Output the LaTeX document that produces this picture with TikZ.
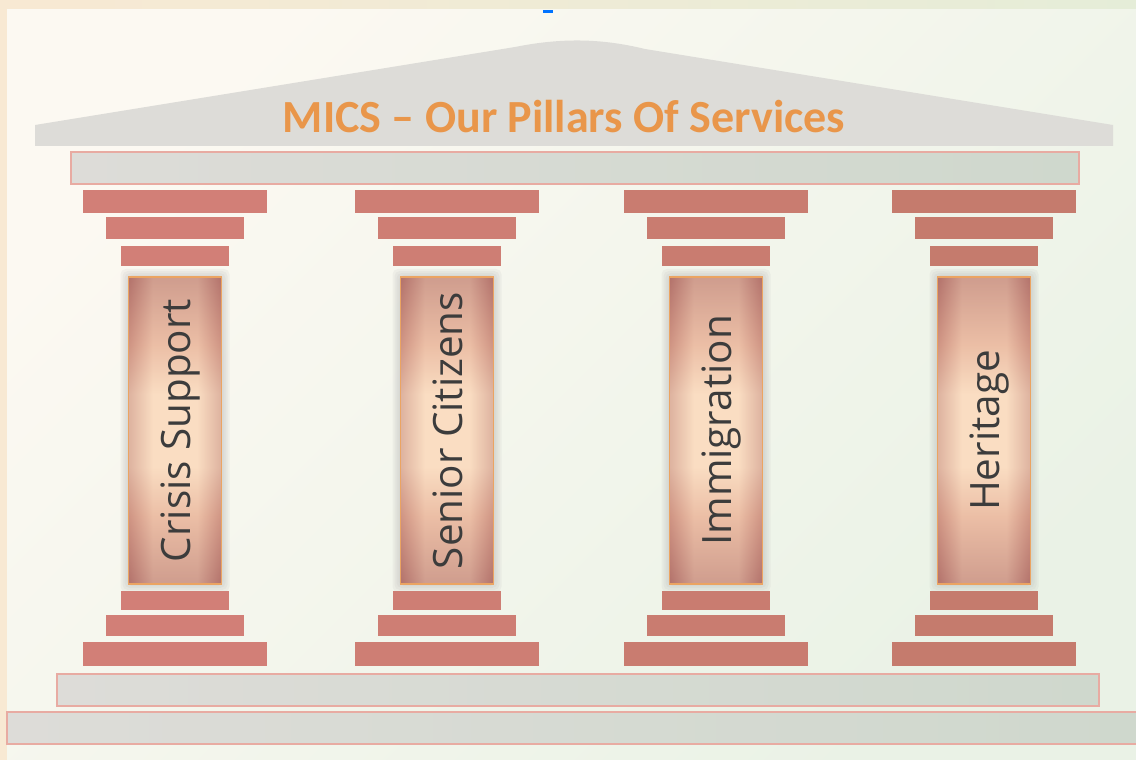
\documentclass[tikz,border=0pt]{standalone}
\usepackage{fontspec}
\setmainfont{Open Sans}
\newfontfamily\titlefont{Carlito}
\definecolor{bgA}{HTML}{F8E9D3}
\definecolor{bgB}{HTML}{E5EDD8}
\definecolor{panA}{HTML}{FCF9F2}
\definecolor{panB}{HTML}{EAF2E6}
\definecolor{slabA}{HTML}{D27F77}
\definecolor{slabB}{HTML}{C47B6C}
\definecolor{greyA}{HTML}{DDDCD8}
\definecolor{greyB}{HTML}{CFD8CD}
\definecolor{pinkline}{HTML}{E8ABA2}
\definecolor{titleorange}{HTML}{E9964A}
\definecolor{shaftin}{HTML}{FADDC2}
\definecolor{shaftmid}{HTML}{E2AA93}
\definecolor{shaftout}{HTML}{B3726B}
\definecolor{shaftedge}{HTML}{EBA462}
\definecolor{txt}{HTML}{3C3C3C}
\pgfdeclareverticalshading{shaftv}{100bp}{%
  color(0bp)=(shaftout); color(25bp)=(shaftout); color(36bp)=(shaftmid);
  color(44bp)=(shaftin); color(56bp)=(shaftin); color(64bp)=(shaftmid);
  color(75bp)=(shaftout); color(100bp)=(shaftout)}
\pgfdeclarehorizontalshading{shafth}{100bp}{%
  color(0bp)=(shaftout); color(25bp)=(shaftout); color(38bp)=(shaftin);
  color(62bp)=(shaftin); color(75bp)=(shaftout); color(100bp)=(shaftout)}
\begin{document}
\begin{tikzpicture}[x=0.02cm,y=-0.02cm,
  slab/.style={fill=slabcol},
  greybar/.style={left color=greyA,right color=greyB,draw=pinkline,line width=0.8pt},
  glow/.style={fill=gray!60,opacity=0.12,rounded corners=3},
  label/.style={rotate=90,anchor=base,text=txt,font=\fontsize{23}{26}\selectfont,inner sep=0pt}]
\useasboundingbox (0,0) rectangle (1136,760);
% background
\shade[left color=bgA,right color=bgB] (0,0) rectangle (1136,760);
\shade[top color=panA,bottom color=panB,shading angle=45] (7,10) rectangle (1136,760);
\fill[blue!55!cyan] (543,10) rectangle (553,13);
% roof
\fill[greyA] (35,125) -- (515,47) .. controls (560,38) and (600,38) .. (645,49) -- (1113,125) -- (1113,146) -- (35,146) -- cycle;
\node[anchor=base,text=titleorange,font=\titlefont\bfseries\fontsize{26.2}{30}\selectfont,inner sep=0pt] (title) at (564,133) {MICS – Our Pillars Of Services};
% architrave
\shade[greybar] (71,152) rectangle (1079,184);
% pillars
\foreach \c/\t/\p [count=\i] in {175/Crisis Support/0,447/Senior Citizens/30,716/Immigration/65,984/Heritage/95}{
  \colorlet{slabcol}{slabB!\p!slabA}
  \begin{scope}[shift={(\c,0)}]
    \fill[slab] (-92,190) rectangle (92,213);
    \fill[slab] (-69,217) rectangle (69,239);
    \fill[slab] (-54,246) rectangle (54,266);
    \foreach \g in {8,6,4,2}{
      \fill[glow] (-46.5-\g,277-\g) rectangle (46.5+\g,584+\g);
    }
    \shade[shading=shaftv] (-46.5,277) rectangle (46.5,584);
    \shade[shading=shafth,opacity=0.4] (-46.5,277) rectangle (46.5,584);
    \draw[shaftedge,line width=0.6pt] (-46.5,277) rectangle (46.5,584);
    \fill[slab] (-54,591) rectangle (54,610);
    \fill[slab] (-69,615) rectangle (69,636);
    \fill[slab] (-92,642) rectangle (92,666);
    \node[label] (p\i) at (15,430.5) {\t};
  \end{scope}
}
% stylobate and step
\shade[greybar] (57,674) rectangle (1099,706);
\shade[greybar] (7,712) rectangle (1140,744);
\end{tikzpicture}
\end{document}
